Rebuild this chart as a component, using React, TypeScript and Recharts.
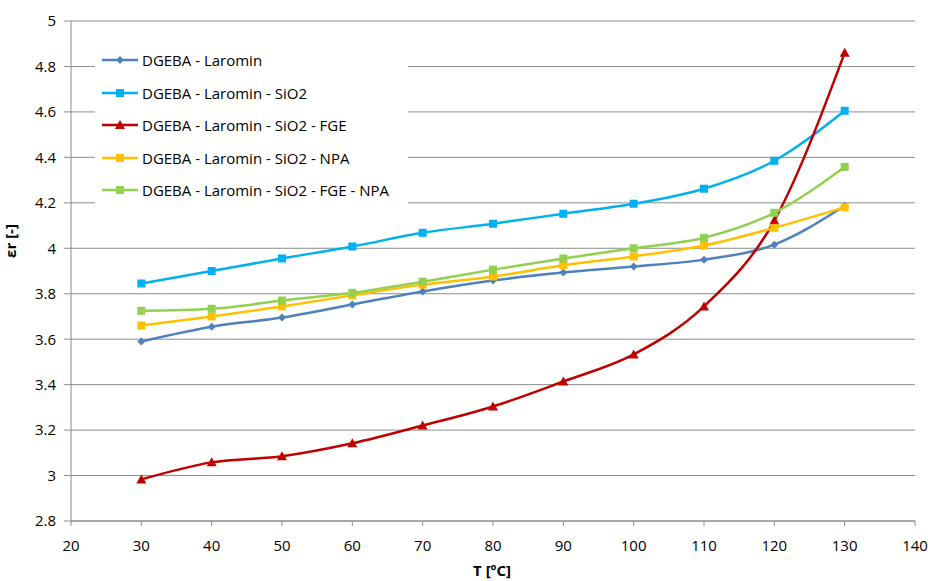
import React from "react"
import { LineChart, Line, XAxis, YAxis, CartesianGrid, Legend } from "recharts"

const temperatures = [30, 40, 50, 60, 70, 80, 90, 100, 110, 120, 130]

const laromin = [3.59, 3.655, 3.695, 3.753, 3.81, 3.858, 3.893, 3.92, 3.95, 4.016, 4.187]
const laroSio2 = [3.845, 3.9, 3.955, 4.008, 4.068, 4.108, 4.152, 4.196, 4.262, 4.385, 4.605]
const laroSio2Fge = [2.983, 3.058, 3.085, 3.142, 3.22, 3.304, 3.414, 3.533, 3.744, 4.122, 4.86]
const laroSio2Npa = [3.66, 3.7, 3.744, 3.793, 3.84, 3.876, 3.925, 3.964, 4.012, 4.09, 4.18]
const laroSio2FgeNpa = [3.725, 3.734, 3.77, 3.804, 3.853, 3.906, 3.955, 4.0, 4.046, 4.156, 4.358]

const xTicks = [20, 30, 40, 50, 60, 70, 80, 90, 100, 110, 120, 130, 140]
const yTicks = [2.8, 3, 3.2, 3.4, 3.6, 3.8, 4, 4.2, 4.4, 4.6, 4.8, 5]

const series = [
  { key: "a", name: "DGEBA - Laromin", values: laromin, color: "#4F81BD", marker: "diamond" },
  { key: "b", name: "DGEBA - Laromin - SiO2", values: laroSio2, color: "#00B0F0", marker: "square" },
  { key: "c", name: "DGEBA - Laromin - SiO2 - FGE", values: laroSio2Fge, color: "#C00000", marker: "triangle" },
  { key: "d", name: "DGEBA - Laromin - SiO2 - NPA", values: laroSio2Npa, color: "#FFC000", marker: "square" },
  { key: "e", name: "DGEBA - Laromin - SiO2 - FGE - NPA", values: laroSio2FgeNpa, color: "#92D050", marker: "square" },
]

const data = temperatures.map((t, i) => {
  const row: any = { t }
  series.forEach((s) => (row[s.key] = s.values[i]))
  return row
})

const FONT = "'Open Sans', 'Liberation Sans', sans-serif"

function markerShape(kind: string, cx: number, cy: number, color: string, key?: any) {
  if (kind === "diamond") {
    const r = 4
    return (
      <path key={key} d={`M${cx},${cy - r}L${cx + r},${cy}L${cx},${cy + r}L${cx - r},${cy}Z`} fill={color} />
    )
  }
  if (kind === "triangle") {
    const r = 5
    return (
      <path key={key} d={`M${cx},${cy - r}L${cx + r},${cy + r * 0.8}L${cx - r},${cy + r * 0.8}Z`} fill={color} />
    )
  }
  const s = 8
  return <rect key={key} x={cx - s / 2} y={cy - s / 2} width={s} height={s} fill={color} />
}

const makeDot = (kind: string, color: string) => (props: any) => {
  const { cx, cy, index } = props
  if (cx == null || cy == null) return <g key={index} />
  return markerShape(kind, cx, cy, color, index)
}

function LegendBox() {
  return (
    <div style={{ background: "#fff", width: 313, height: 175, position: "relative", fontFamily: FONT }}>
      {series.map((s, i) => (
        <div
          key={s.key}
          style={{
            position: "absolute",
            left: 0,
            top: 9 + i * 32.5,
            height: 32,
            display: "flex",
            alignItems: "center",
          }}
        >
          <svg width={47} height={14} style={{ display: "block" }}>
            <line x1={7} y1={7} x2={43} y2={7} stroke={s.color} strokeWidth={2.5} />
            {markerShape(s.marker, 25, 7, s.color)}
          </svg>
          <span style={{ fontSize: 15, color: "#000", whiteSpace: "nowrap" }}>{s.name}</span>
        </div>
      ))}
    </div>
  )
}

export default function App() {
  return (
    <div style={{ position: "absolute", left: 0, top: 0, width: 928, height: 581, background: "#fff" }}>
      <LineChart
        width={928}
        height={581}
        data={data}
        margin={{ top: 21, right: 13, left: 0, bottom: 0 }}
        style={{ fontFamily: FONT }}
      >
        <CartesianGrid vertical={false} stroke="#8c8c8c" strokeWidth={1} />
        <XAxis
          dataKey="t"
          type="number"
          domain={[20, 140]}
          ticks={xTicks}
          interval={0}
          height={60}
          tickSize={5}
          tickMargin={14}
          stroke="#8c8c8c"
          tick={{ fill: "#000", fontSize: 15 }}
        />
        <YAxis
          type="number"
          domain={[2.8, 5]}
          ticks={yTicks}
          interval={0}
          width={71}
          tickSize={7}
          tickMargin={8}
          stroke="#8c8c8c"
          tick={{ fill: "#000", fontSize: 15 }}
          tickFormatter={(v: number) => String(Math.round(v * 10) / 10)}
        />
        <Legend
          layout="vertical"
          align="center"
          verticalAlign="middle"
          content={() => <LegendBox />}
          wrapperStyle={{ left: 95, top: 35, width: 313, height: 175 }}
        />
        {series.map((s) => (
          <Line
            key={s.key}
            dataKey={s.key}
            name={s.name}
            type="monotone"
            stroke={s.color}
            strokeWidth={2.5}
            dot={makeDot(s.marker, s.color)}
            activeDot={false}
            isAnimationActive={false}
          />
        ))}
        <text x={492} y={576} textAnchor="middle" fontSize={15} fontWeight="bold" fill="#000">
          T [ºC]
        </text>
        <text
          x={16}
          y={241}
          textAnchor="middle"
          fontSize={15}
          fontWeight="bold"
          fill="#000"
          transform="rotate(-90 16 241)"
        >
          εr [-]
        </text>
      </LineChart>
    </div>
  )
}
